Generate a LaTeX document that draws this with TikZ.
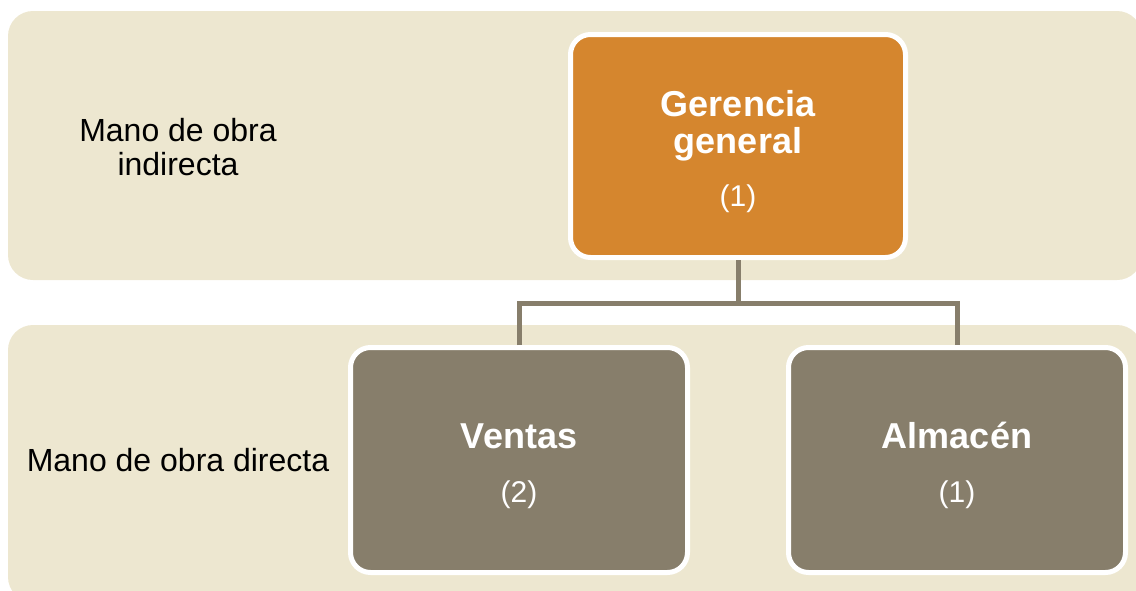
\documentclass[tikz,border=0pt]{standalone}
\usepackage{fontspec}
\setmainfont{Liberation Sans}
\usetikzlibrary{positioning,calc}
\definecolor{beige}{HTML}{EDE7D0}
\definecolor{naranja}{HTML}{D5862E}
\definecolor{pardo}{HTML}{877E6B}
\tikzset{band/.style={fill=beige, draw=none, rounded corners=25pt},
         unit/.style={rectangle, rounded corners=20pt, draw=white, line width=5pt,
                      fill=pardo, text=white, align=center,
                      minimum width=337pt, minimum height=225pt,
                      font=\fontsize{30}{32}\selectfont},
         lbl/.style={align=center, font=\fontsize{32}{34}\selectfont},
         link/.style={draw=pardo, line width=5pt}
}
% bold title line, with a strut to push the block down a little
\newcommand{\bigb}[1]{{\fontsize{36}{32}\selectfont\bfseries #1}}
\newcommand{\topstrut}{\rule{0pt}{38pt}}

\begin{document}
\begin{tikzpicture}[x=1pt,y=-1pt]
      \useasboundingbox (0,0) rectangle (1136,590);
      \fill[band] (8,11) rectangle (1142,280);
      \fill[band] (8,325) rectangle (1142,602);
      \node[lbl] (indir) at (178,147) {Mano de obra\\indirecta};
      \node[lbl] (dir) at (178,460) {Mano de obra directa};
      \node[unit, fill=naranja, minimum width=335pt, minimum height=223pt] (ger) at (738,146)
            {\topstrut\bigb{Gerencia}\\[5pt]\bigb{general}\\[21pt](1)};
      \node[unit] (ven) at (519,460) {\topstrut\bigb{Ventas}\\[22pt](2)};
      \node[unit] (alm) at (957,460) {\topstrut\bigb{Almacén}\\[22pt](1)};
      \coordinate (bus) at (738,303);
      \draw[link] (ger.south) -- (bus);
      \draw[link] (ven.north) |- (bus) -| (alm.north);
\end{tikzpicture}
\end{document}
